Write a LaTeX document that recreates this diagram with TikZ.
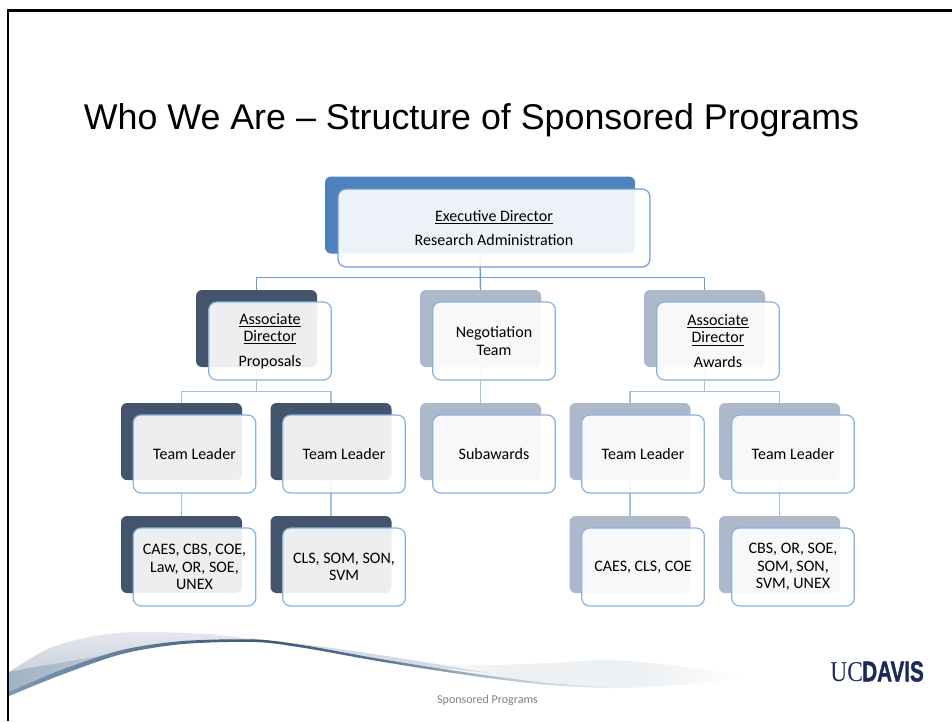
\documentclass[tikz,border=0pt]{standalone}
\usepackage{fontspec}
\setmainfont{Carlito}
\newfontfamily\arialf{Liberation Sans}
\newfontfamily\timesf{Liberation Serif}
\definecolor{execback}{HTML}{4F81BD}
\definecolor{darkback}{HTML}{44546A}
\definecolor{lightback}{HTML}{ADB9CA}
\definecolor{edgeexec}{HTML}{6A9FD6}
\definecolor{edgelight}{HTML}{9DC3E6}
\definecolor{edgefront}{HTML}{85B2E2}
\definecolor{ucnavy}{HTML}{1B2A58}
\definecolor{swa}{HTML}{7F97AE}
\definecolor{swb}{HTML}{5F7C98}
\definecolor{swc}{HTML}{3A5876}
\definecolor{swd}{HTML}{56748F}
\definecolor{swe}{HTML}{B4C3D1}
\definecolor{bandtop}{HTML}{E4E8ED}
\definecolor{bandbot}{HTML}{B9C5D1}
\definecolor{wedge}{HTML}{A2B3C5}
\definecolor{halo}{HTML}{D3DCE4}
\definecolor{paleband}{HTML}{EEF1F4}
\pgfdeclarehorizontalshading{swooshline}{100bp}{color(0bp)=(swa);color(25bp)=(swa);color(33bp)=(swb);color(42bp)=(swc);color(50bp)=(swd);color(58bp)=(swe);color(66bp)=(paleband);color(75bp)=(white);color(100bp)=(white)}
\pgfdeclarehorizontalshading{swooshpale}{100bp}{color(0bp)=(white);color(25bp)=(white);color(40bp)=(paleband);color(60bp)=(paleband);color(75bp)=(white);color(100bp)=(white)}
\tikzset{
  x=0.75pt,y=-0.75pt,
  backbox/.style={rounded corners=4.5pt,minimum width=90.75pt,minimum height=57.75pt,inner sep=0pt,outer sep=0pt},
  frontbox/.style={rounded corners=6pt,minimum width=92pt,minimum height=58.5pt,inner sep=0pt,outer sep=0pt,
    draw=edgefront,line width=0.9pt,fill=white,fill opacity=0.9,text opacity=1,align=center,
    font=\fontsize{12}{13}\selectfont,text=black},
  conn/.style={draw=edgelight,line width=0.85pt},
  stem/.style={draw=edgelight,line width=1.1pt},
  connexec/.style={draw=edgeexec,line width=0.85pt},
}
\begin{document}
\begin{tikzpicture}
\useasboundingbox (0,0) rectangle (952,721);
\fill[white] (0,0) rectangle (952,721);
% swoosh
\shade[shading=swooshpale] plot[smooth] coordinates {(400,664) (488,665) (550,663) (610,660) (680,666) (750,677)}
  -- plot[smooth] coordinates {(680,685) (610,688) (549,684) (488,677) (400,664)} -- cycle;
\shade[top color=bandtop,bottom color=bandbot] plot[smooth] coordinates {(9,672) (50,648) (100,635) (150,632) (220,635) (262,641)}
  -- plot[smooth] coordinates {(220,641) (150,647) (100,658) (50,677) (9,695)} -- cycle;
\shade[left color=wedge,right color=bandbot] plot[smooth] coordinates {(9,672) (35,667) (60,663) (105,655)}
  -- plot[smooth] coordinates {(100,658) (50,677) (9,695)} -- cycle;
\fill[halo] plot[smooth] coordinates {(250,638) (317,646) (367,653) (430,663) (490,673)}
  -- plot[smooth] coordinates {(430,667) (367,657) (317,650) (257,641)} -- cycle;
\shade[shading=swooshline] plot[smooth] coordinates {(9,692) (61,670) (122,650) (183,641) (256,639.5) (305,645.5) (366,656.5) (427,666.5) (488,675.5) (549,683) (610,686.5) (680,684.5) (750,677)}
  -- plot[smooth] coordinates {(680,685.5) (610,688) (549,685) (488,678) (427,669) (366,659) (305,648) (256,642) (183,644) (122,654) (61,675) (9,696)} -- cycle;
% slide frame
\draw[black,line width=1.7pt] (952,10.5) -- (8,10.5) -- (8,721);
% title and footer
\node[font=\arialf\fontsize{26.85}{32}\selectfont,anchor=center] (title) at (471.5,120) {Who We Are – Structure of Sponsored Programs};
\node[font=\fontsize{9}{11}\selectfont,text=black!50] (footer) at (487.5,700) {Sponsored Programs};
% logo
\node[text=ucnavy,inner sep=0pt,anchor=west] (logo) at (830,671.5) {\scalebox{0.82}[1]{\timesf\fontsize{21.5}{21.5}\selectfont UC}\kern-0.5pt\scalebox{0.72}[1]{\arialf\bfseries\addfontfeatures{FakeBold=1.5}\fontsize{21.5}{21.5}\selectfont DAVIS}};
% back boxes
\node[backbox,fill=execback,minimum width=232.5pt] (exB) at (480,215) {};
\node[backbox,fill=darkback] (aLB) at (256.5,328.5) {};
\node[backbox,fill=lightback] (negB) at (480.5,328.5) {};
\node[backbox,fill=lightback] (aRB) at (704.5,328.5) {};
\node[backbox,fill=darkback] (t1B) at (181.5,441.5) {};
\node[backbox,fill=darkback] (t2B) at (331,441.5) {};
\node[backbox,fill=lightback] (subB) at (480.5,441.5) {};
\node[backbox,fill=lightback] (t3B) at (630,441.5) {};
\node[backbox,fill=lightback] (t4B) at (779.5,441.5) {};
\node[backbox,fill=darkback] (c1B) at (181.5,554.5) {};
\node[backbox,fill=darkback] (c2B) at (331,554.5) {};
\node[backbox,fill=lightback] (c3B) at (630,554.5) {};
\node[backbox,fill=lightback] (c4B) at (779.5,554.5) {};
% connectors
\coordinate (busA) at (480,277.5);
\coordinate (busL) at (256.5,391.5);
\coordinate (busR) at (704.5,391.5);
\draw[connexec] (aLB.north) |- (busA) -| (aRB.north);
\draw[connexec,line width=1.1pt] (exB.south) -- (negB.north);
\draw[conn] (t1B.north) |- (busL) -| (t2B.north);
\draw[conn] (t3B.north) |- (busR) -| (t4B.north);
\draw[stem] (aLB.south) -- (busL);
\draw[stem] (aRB.south) -- (busR);
\draw[stem] (negB.south) -- (subB.north);
\draw[stem] (t1B.south) -- (c1B.north);
\draw[stem] (t2B.south) -- (c2B.north);
\draw[stem] (t3B.south) -- (c3B.north);
\draw[stem] (t4B.south) -- (c4B.north);
% front boxes
\node[frontbox,draw=edgeexec,minimum width=234pt] (ex) at (494,228) {\underline{Executive Director}\\[5.5pt]Research Administration};
\node[frontbox] (aL) at (270,341) {\underline{Associate}\\\underline{Director}\\[5.5pt]Proposals};
\node[frontbox] (neg) at (494,341) {Negotiation\\Team};
\node[frontbox] (aR) at (718,341) {\underline{Associate}\\\underline{Director}\\[5.5pt]Awards};
\node[frontbox] (t1) at (194.5,454) {Team Leader};
\node[frontbox] (t2) at (344,454) {Team Leader};
\node[frontbox] (sub) at (494,454) {Subawards};
\node[frontbox] (t3) at (643,454) {Team Leader};
\node[frontbox] (t4) at (793,454) {Team Leader};
\node[frontbox] (c1) at (194.5,567) {CAES, CBS, COE,\\Law, OR, SOE,\\UNEX};
\node[frontbox] (c2) at (344,567) {CLS, SOM, SON,\\SVM};
\node[frontbox] (c3) at (643,567) {CAES, CLS, COE};
\node[frontbox] (c4) at (793,567) {CBS, OR, SOE,\\SOM, SON,\\SVM, UNEX};
\end{tikzpicture}
\end{document}
